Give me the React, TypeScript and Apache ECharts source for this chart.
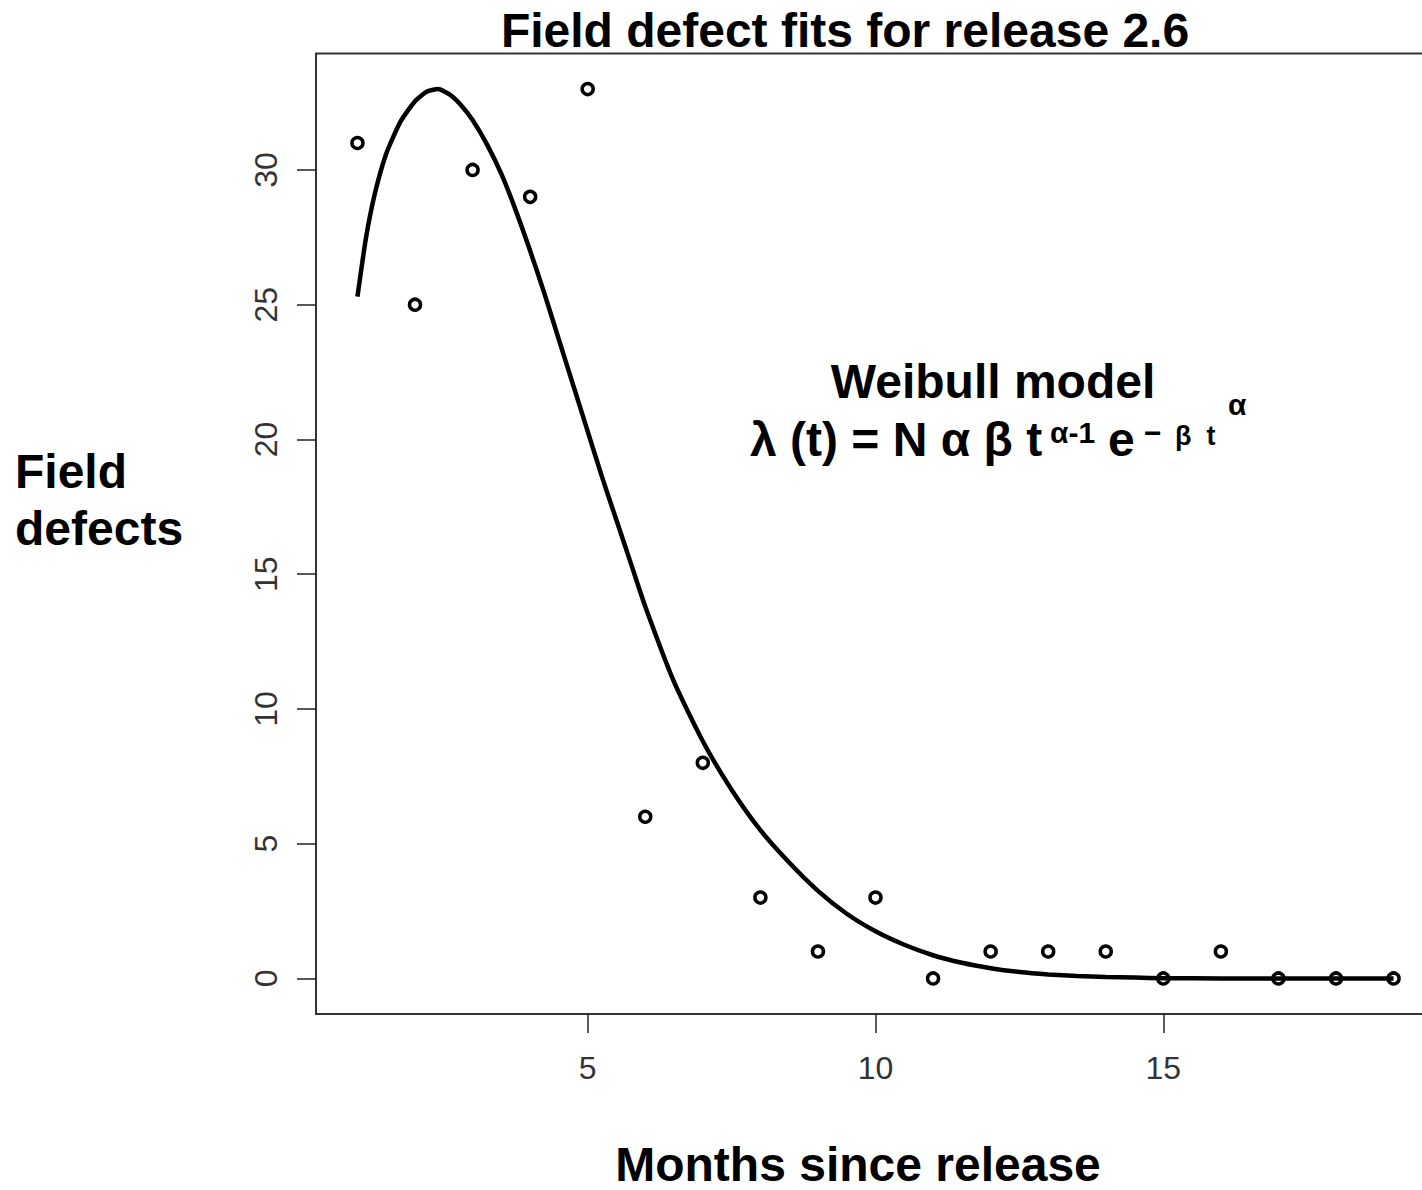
import React, { useEffect, useRef } from "react";
import * as echarts from "echarts";

const months = [1, 2, 3, 4, 5, 6, 7, 8, 9, 10, 11, 12, 13, 14, 15, 16, 17, 18, 19];
const defects = [31, 25, 30, 29, 33, 6, 8, 3, 1, 3, 0, 1, 1, 1, 0, 1, 0, 0, 0];

// Weibull fit curve
const fitT = [1.0, 1.15, 1.3, 1.5, 1.75, 2.0, 2.2, 2.4, 2.6, 2.8, 3.0, 3.25, 3.5, 3.75, 4.0, 4.25, 4.5, 4.75, 5.0, 5.25, 5.5, 5.75, 6.0, 6.5, 7.0, 7.5, 8.0, 8.5, 9.0, 9.5, 10.0, 10.5, 11.0, 11.5, 12.0, 12.5, 13.0, 13.5, 14.0, 14.5, 15.0, 16.0, 17.0, 18.0, 19.0];
const fitV = [25.3, 27.5, 29.1, 30.6, 31.8, 32.55, 32.9, 33.0, 32.8, 32.4, 31.85, 30.95, 29.85, 28.5, 27.0, 25.4, 23.7, 22.0, 20.3, 18.6, 17.0, 15.4, 13.8, 11.0, 8.8, 7.0, 5.5, 4.3, 3.25, 2.4, 1.75, 1.25, 0.86, 0.58, 0.38, 0.24, 0.15, 0.09, 0.05, 0.03, 0.01, 0.0, 0.0, 0.0, 0.0];

const xTicks = [5, 10, 15];
const yTicks = [0, 5, 10, 15, 20, 25, 30];

const titleText = "Field defect fits for release 2.6";
const xLabel = "Months since release";
const yLabelLines = ["Field", "defects"];

const BOLD = "Liberation Sans, Arial, Helvetica, sans-serif";
const TICKFONT = "Liberation Sans Narrow, Arial Narrow, Liberation Sans, Arial, sans-serif";

export default function App() {
  const ref = useRef<HTMLDivElement>(null);
  useEffect(() => {
    if (!ref.current) return;
    const chart = echarts.init(ref.current, undefined, { renderer: "svg" });
    const big = (text: string, x: number, y: number, align: string, size = 48) => ({
      type: "text",
      x,
      y,
      style: {
        text,
        fontSize: size,
        fontWeight: "bold",
        fontFamily: BOLD,
        fill: "#000",
        textAlign: align,
        textVerticalAlign: "middle",
      },
    });
    chart.setOption({
      animation: false,
      backgroundColor: "#fff",
      grid: {
        left: 316,
        top: 53.5,
        right: 5,
        bottom: 176,
        show: true,
        borderColor: "#333",
        borderWidth: 2,
        backgroundColor: "transparent",
      },
      xAxis: {
        type: "value",
        min: 0.28,
        max: 19.72,
        axisLine: { show: false, onZero: false },
        splitLine: { show: false },
        axisTick: {
          show: true,
          inside: false,
          length: 19,
          customValues: xTicks,
          lineStyle: { color: "#222", width: 1.5 },
        },
        axisLabel: {
          customValues: xTicks,
          margin: 38,
          fontSize: 32,
          fontFamily: TICKFONT,
          color: "#333",
        },
      },
      yAxis: {
        type: "value",
        min: -1.32,
        max: 34.32,
        axisLine: { show: false, onZero: false },
        splitLine: { show: false },
        axisTick: {
          show: true,
          inside: false,
          length: 19,
          customValues: yTicks,
          lineStyle: { color: "#222", width: 1.5 },
        },
        axisLabel: {
          customValues: yTicks,
          rotate: 90,
          margin: 34,
          fontSize: 32,
          fontFamily: TICKFONT,
          color: "#333",
        },
      },
      series: [
        {
          type: "scatter",
          data: months.map((m, i) => [m, defects[i]]),
          symbol: "circle",
          symbolSize: 11,
          itemStyle: { color: "rgba(255,255,255,0)", borderColor: "#000", borderWidth: 3.5, opacity: 1 },
          z: 2,
        },
        {
          type: "line",
          data: fitT.map((t, i) => [t, fitV[i]]),
          showSymbol: false,
          smooth: 0.2,
          lineStyle: { color: "#000", width: 4.5 },
          z: 3,
        },
      ],
      graphic: [
        big(titleText, 845, 30, "center"),
        big(xLabel, 858, 1164, "center"),
        big(yLabelLines[0], 15, 471, "left"),
        big(yLabelLines[1], 15, 528, "left"),
        big("Weibull model", 993, 381, "center"),
        big("λ (t) = N α β t", 750, 439, "left"),
        big("α-1", 1050, 432, "left", 30),
        big("e", 1108, 439, "left"),
        big("−", 1144, 432, "left", 30),
        big("β  t", 1175, 436, "left", 27),
        big("α", 1228, 404, "left", 30),
      ],
    });
    return () => chart.dispose();
  }, []);
  return (
    <div
      style={{
        position: "fixed",
        left: 0,
        top: 0,
        width: 1422,
        height: 1190,
        overflow: "hidden",
        background: "#fff",
      }}
    >
      <div ref={ref} style={{ width: 1440, height: 1190 }} />
    </div>
  );
}
